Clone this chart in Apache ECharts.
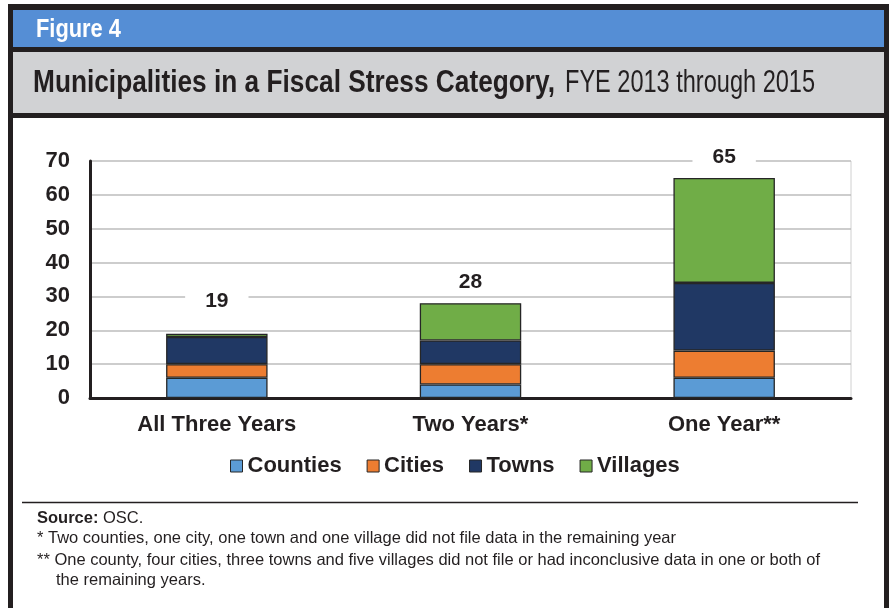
<!DOCTYPE html>
<html><head><meta charset="utf-8">
<script src="https://cdn.jsdelivr.net/npm/echarts@6/dist/echarts.min.js"></script>
<style>html,body{margin:0;padding:0;background:#fff}#c{width:889px;height:608px}</style>
</head><body><div id="c"></div>
<script>
const categories = ['All Three Years', 'Two Years*', 'One Year**'];
const counties = [6, 4, 6];
const cities = [4, 6, 8];
const towns = [8, 7, 20];
const villages = [1, 11, 31];
const totals = [19, 28, 65];
const yTicks = [0, 10, 20, 30, 40, 50, 60, 70];

const SANS = '"Liberation Sans",Arial,sans-serif';
const DARK = '#231f20';

const ctx = document.createElement('canvas').getContext('2d');
function fitScale(text, font, target) {
  ctx.font = font;
  return target / ctx.measureText(text).width;
}

const chart = echarts.init(document.getElementById('c'), null, {renderer: 'canvas'});
const labelDist = [22, 10, 10];
function mk(name, data, color, isTop) {
  return {
    name, type: 'bar', stack: 'a', barWidth: '40%',
    data: data.map((v, i) => isTop ? {value: v, label: {distance: labelDist[i]}} : v),
    itemStyle: {color, borderColor: '#262626', borderWidth: 1.3},
    emphasis: {disabled: true},
    label: isTop ? {
      show: true, position: 'top',
      formatter: p => String(totals[p.dataIndex]),
      fontFamily: SANS, fontWeight: 'bold', fontSize: 21, color: '#231f20',
      backgroundColor: '#fff', padding: [2, 20, 0, 20]
    } : {show: false}
  };
}
const figFont = 'bold 26px ' + SANS;
const tBold = 'Municipalities in a Fiscal Stress Category,';
const tNorm = 'FYE 2013 through 2015';
const tBoldFont = 'bold 31px ' + SANS;
const tNormFont = '31px ' + SANS;
const fnFont = '16.5px ' + SANS;

chart.setOption({
  animation: false,
  graphic: [
    {type: 'rect', shape: {x: 8, y: 4, width: 881, height: 610}, style: {fill: DARK}},
    {type: 'rect', shape: {x: 13, y: 10, width: 871, height: 37}, style: {fill: '#558ed5'}},
    {type: 'rect', shape: {x: 13, y: 52, width: 871, height: 61}, style: {fill: '#d1d2d4'}},
    {type: 'rect', shape: {x: 13, y: 118, width: 871, height: 500}, style: {fill: '#fff'}},
    {type: 'text', x: 36, y: 30, scaleX: fitScale('Figure 4', figFont, 85),
      style: {text: 'Figure 4', fill: '#fff', font: figFont, verticalAlign: 'middle'}},
    {type: 'text', x: 33, y: 83, scaleX: fitScale(tBold, tBoldFont, 522),
      style: {text: tBold, fill: '#231f20', font: tBoldFont, verticalAlign: 'middle'}},
    {type: 'text', x: 565, y: 83, scaleX: fitScale(tNorm, tNormFont, 250),
      style: {text: tNorm, fill: '#231f20', font: tNormFont, verticalAlign: 'middle'}},
    {type: 'line', shape: {x1: 22, y1: 502.5, x2: 858, y2: 502.5}, style: {stroke: DARK, lineWidth: 1.5}},
    {type: 'line', shape: {x1: 851, y1: 161, x2: 851, y2: 398}, style: {stroke: '#d0d0d0', lineWidth: 1}},
    {type: 'text', x: 37, y: 518, style: {text: '{b|Source:} OSC.', verticalAlign: 'middle', font: fnFont, fill: '#231f20', rich: {b: {font: 'bold 16.5px ' + SANS, fill: '#231f20'}}}},
    {type: 'text', x: 37, y: 538, style: {text: '* Two counties, one city, one town and one village did not file data in the remaining year', verticalAlign: 'middle', font: fnFont, fill: '#231f20'}},
    {type: 'text', x: 37, y: 560, style: {text: '** One county, four cities, three towns and five villages did not file or had inconclusive data in one or both of', verticalAlign: 'middle', font: fnFont, fill: '#231f20'}},
    {type: 'text', x: 56, y: 580, style: {text: 'the remaining years.', verticalAlign: 'middle', font: fnFont, fill: '#231f20'}}
  ],
  legend: {
    top: 450, left: 225,
    itemWidth: 12, itemHeight: 12, itemGap: 25,
    icon: 'rect',
    textStyle: {fontFamily: SANS, fontWeight: 'bold', fontSize: 22, color: '#231f20'},
    data: ['Counties', 'Cities', 'Towns', 'Villages'],
    itemStyle: {borderColor: '#262626', borderWidth: 1}
  },
  grid: {left: 90, right: 38, top: 161, bottom: 210, containLabel: false},
  xAxis: {
    type: 'category', data: categories,
    axisLine: {lineStyle: {color: DARK, width: 3}},
    axisTick: {show: false},
    axisLabel: {fontFamily: SANS, fontWeight: 'bold', fontSize: 22, color: '#231f20', margin: 16}
  },
  yAxis: {
    type: 'value', min: 0, max: 70, interval: 10,
    axisLine: {show: true, lineStyle: {color: DARK, width: 3}},
    axisTick: {show: false},
    splitLine: {lineStyle: {color: '#bdbdbd', width: 1.5}},
    axisLabel: {fontFamily: SANS, fontWeight: 'bold', fontSize: 22, color: '#231f20', margin: 20,
      formatter: v => yTicks.includes(v) ? String(v) : ''}
  },
  series: [
    mk('Counties', counties, '#5b9bd5', false),
    mk('Cities', cities, '#ed7d31', false),
    mk('Towns', towns, '#203864', false),
    mk('Villages', villages, '#70ad47', true)
  ]
});
</script></body></html>
